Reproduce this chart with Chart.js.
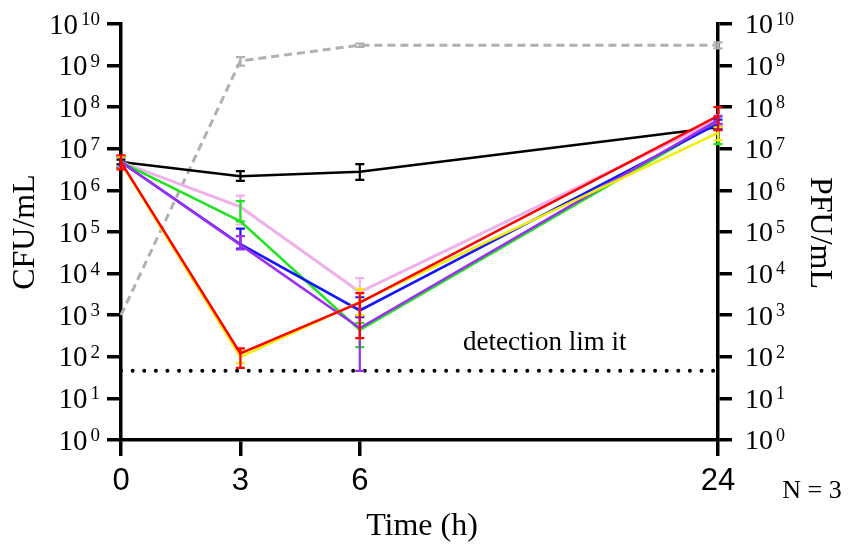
<!DOCTYPE html>
<html>
<head>
<meta charset="utf-8">
<script src="https://cdn.jsdelivr.net/npm/chart.js@4/dist/chart.umd.min.js"></script>
<style>
  html, body { margin: 0; padding: 0; background: #fff; }
  canvas { display: block; }
</style>
</head>
<body>
<canvas id="killCurve" width="849" height="547"></canvas>
<script>
// --- DATOS ---
// eje x por categorias: 0, 3, 6 y 24 h (dos huecos vacios entre 6 y 24)
const timeLabels = ['0', '3', '6', '', '', '24'];
const sampleTimes = ['0', '3', '6', '24'];

// control sin fago (CFU/mL)
const control   = [4.8e6, 2.2e6, 2.8e6, 3.3e7];
const controlHi = [5.5e6, 2.9e6, 4.3e6, 3.8e7];
const controlLo = [4.2e6, 1.7e6, 1.8e6, 2.9e7];

// fago (PFU/mL, eje derecho)
const phage   = [1e3, 1.3e9, 3.1e9, 3.1e9];
const phageHi = [1e3, 1.6e9, 3.4e9, 3.6e9];
const phageLo = [1e3, 1.0e9, 2.8e9, 2.6e9];

// cepas tratadas (CFU/mL)
const pink     = [4.8e6, 4.0e5, 3.6e3, 5.0e7];
const pinkHi   = [6.5e6, 7.5e5, 7.8e3, 6.5e7];
const pinkLo   = [3.5e6, 1.5e5, 1.5e3, 3.8e7];
const green    = [4.8e6, 1.8e5, 4.4e2, 4.4e7];
const greenHi  = [6.5e6, 5.5e5, 6.5e2, 6.0e7];
const greenLo  = [3.5e6, 1.8e5, 1.7e2, 1.3e7];
const blue     = [4.8e6, 5.1e4, 1.3e3, 4.0e7];
const blueHi   = [6.5e6, 1.2e5, 2.7e3, 5.0e7];
const blueLo   = [3.5e6, 4.0e4, 9.0e2, 3.2e7];
const purple   = [4.8e6, 4.9e4, 4.9e2, 4.9e7];
const purpleHi = [6.5e6, 8.0e4, 9.6e2, 6.0e7];
const purpleLo = [3.5e6, 3.8e4, 46, 4.0e7];
const yellow   = [4.6e6, 1.0e2, 2.1e3, 2.4e7];
const yellowHi = [6.5e6, 1.4e2, 4.3e3, 3.3e7];
const yellowLo = [3.3e6, 70, 1.0e3, 1.6e7];
const red      = [4.8e6, 1.2e2, 2.0e3, 6.2e7];
const redHi    = [7.0e6, 1.6e2, 3.4e3, 1.0e8];
const redLo    = [3.2e6, 54, 2.8e2, 2.8e7];

const detectionLimit = 46;
const limitTimes = ['0', '24'];

// --- HELPERS ---
function pts(values, times) {
    const t = times || sampleTimes;
    return values.map((v, i) => ({ x: t[i], y: v }));
}

function serie(label, values, hi, lo, color, axis) {
    return {
        label: label,
        data: pts(values),
        errHi: hi,
        errLo: lo,
        yAxisID: axis || 'y',
        borderColor: color,
        backgroundColor: color,
        borderWidth: 2.5,
        pointRadius: 0,
        tension: 0
    };
}

// barras de error, se dibujan justo despues de cada serie
const errorBars = {
    id: 'errorBars',
    afterDatasetDraw(chart, args) {
        const ds = chart.data.datasets[args.index];
        if (!ds.errHi) return;
        const ctx = chart.ctx;
        const yScale = chart.scales[ds.yAxisID];
        ctx.save();
        ctx.strokeStyle = ds.borderColor;
        ctx.lineWidth = 2.2;
        args.meta.data.forEach((pt, i) => {
            const yHi = yScale.getPixelForValue(ds.errHi[i]);
            const yLo = yScale.getPixelForValue(ds.errLo[i]);
            if (Math.abs(yHi - yLo) < 1) return;
            ctx.beginPath();
            ctx.moveTo(pt.x, yHi); ctx.lineTo(pt.x, yLo);
            ctx.moveTo(pt.x - 4.5, yHi); ctx.lineTo(pt.x + 4.5, yHi);
            ctx.moveTo(pt.x - 4.5, yLo); ctx.lineTo(pt.x + 4.5, yLo);
            ctx.stroke();
        });
        ctx.restore();
    }
};

// etiquetas 10^n, titulos y textos sueltos
const textos = {
    id: 'textos',
    afterDraw(chart) {
        const ctx = chart.ctx;
        const serif = 'Liberation Serif';
        ctx.save();
        ctx.fillStyle = '#000';
        ctx.textBaseline = 'middle';

        const left = chart.scales.y;
        const right = chart.scales.y1;
        for (let e = 0; e <= 10; e++) {
            // izquierda, alineado a la derecha en x=100
            let y = left.getPixelForValue(Math.pow(10, e));
            ctx.font = '19px ' + serif;
            const expW = ctx.measureText(String(e)).width;
            ctx.textAlign = 'left';
            ctx.fillText(String(e), 100 - expW, y - 4);
            ctx.font = '29px ' + serif;
            ctx.textAlign = 'right';
            ctx.fillText('10', 100 - expW - 3, y + 2);

            // derecha, empieza en x=745
            y = right.getPixelForValue(Math.pow(10, e));
            ctx.textAlign = 'left';
            ctx.font = '28px ' + serif;
            const baseW = ctx.measureText('10').width;
            ctx.fillText('10', 745, y + 2);
            ctx.font = '18px ' + serif;
            ctx.fillText(String(e), 745 + baseW + 3, y - 4);
        }

        ctx.textAlign = 'center';
        ctx.font = '32px ' + serif;
        ctx.save();
        ctx.translate(26, 232);
        ctx.rotate(-Math.PI / 2);
        ctx.fillText('CFU/mL', 0, 0);
        ctx.restore();

        ctx.save();
        ctx.translate(819, 233);
        ctx.rotate(Math.PI / 2);
        ctx.fillText('PFU/mL', 0, 0);
        ctx.restore();

        ctx.fillText('Time (h)', 422, 527);

        ctx.font = '26px ' + serif;
        ctx.fillText('N = 3', 812, 491);

        ctx.font = '27px ' + serif;
        ctx.textAlign = 'left';
        ctx.fillText('detection lim it', 463, 343);
        ctx.restore();
    }
};

function ejeLog(position, width) {
    return {
        type: 'logarithmic',
        position: position,
        min: 1,
        max: 1e10,
        afterBuildTicks: scale => {
            scale.ticks = [];
            for (let e = 0; e <= 10; e++) scale.ticks.push({ value: Math.pow(10, e) });
        },
        afterFit: scale => { scale.width = width; },
        border: { display: true, color: '#000', width: 3.5 },
        grid: { drawOnChartArea: false, drawTicks: true, tickLength: 14, lineWidth: 3.5, color: '#000' },
        ticks: { display: false }
    };
}

// --- GRAFICO ---
new Chart(document.getElementById('killCurve'), {
    type: 'line',
    data: {
        labels: timeLabels,
        datasets: [
            serie('red', red, redHi, redLo, '#ff0000'),
            serie('yellow', yellow, yellowHi, yellowLo, '#f2ee00'),
            serie('purple', purple, purpleHi, purpleLo, '#9b2ff0'),
            serie('blue', blue, blueHi, blueLo, '#1414ff'),
            serie('green', green, greenHi, greenLo, '#1ee61e'),
            Object.assign(serie('pink', pink, pinkHi, pinkLo, '#f0b0ea'), { borderWidth: 3 }),
            serie('control', control, controlHi, controlLo, '#000000'),
            Object.assign(serie('phage', phage, phageHi, phageLo, '#b0b0b0', 'y1'), {
                borderWidth: 3,
                borderDash: [8, 5]
            }),
            {
                label: 'detection limit',
                data: pts([detectionLimit, detectionLimit], limitTimes),
                yAxisID: 'y',
                borderColor: '#000',
                borderWidth: 4,
                borderDash: [0.01, 11.6],
                borderCapStyle: 'round',
                pointRadius: 0
            }
        ]
    },
    options: {
        responsive: false,
        animation: false,
        layout: { padding: { top: 24, left: 0, right: 0, bottom: 0 } },
        plugins: {
            legend: { display: false },
            tooltip: { enabled: false }
        },
        scales: {
            x: {
                type: 'category',
                offset: false,
                afterBuildTicks: scale => {
                    scale.ticks = scale.ticks.filter(t => timeLabels[t.value] !== '');
                },
                afterFit: scale => { scale.height = 107; },
                border: { display: true, color: '#000', width: 3.5 },
                grid: { drawOnChartArea: false, drawTicks: true, tickLength: 16, lineWidth: 3.5, color: '#000' },
                ticks: {
                    autoSkip: false,
                    maxRotation: 0,
                    padding: 7,
                    color: '#000',
                    font: { family: 'Liberation Sans', size: 31 }
                }
            },
            y: ejeLog('left', 121),
            y1: ejeLog('right', 131)
        }
    },
    plugins: [errorBars, textos]
});
</script>
</body>
</html>
